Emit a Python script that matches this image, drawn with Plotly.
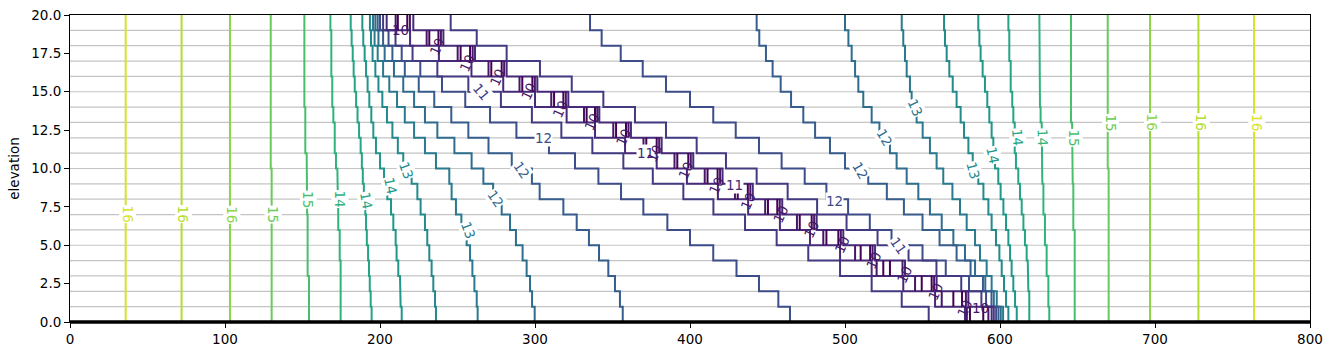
import plotly.graph_objects as go
from plotly.colors import sample_colorscale

# ---------------- data ----------------
# layer boundaries (elevation), top of layer 1 down to bottom of layer 20
layer_edges = [20, 19, 18, 17, 16, 15, 14, 13, 12, 11, 10, 9, 8, 7, 6, 5, 4, 3, 2, 1, 0]
grid_lines = [19, 18, 17, 16, 15, 14, 13, 12, 11, 10, 9, 8, 7, 6, 5, 4, 3, 2, 1]

# colour normalisation of the contour levels
level_min = 10.0
level_max = 16.8

# x position of each contour branch in every layer (top layer first)
h164_left = [35.9, 35.9, 35.9, 35.9, 35.9, 35.9, 35.9, 35.9, 35.9, 35.9, 35.9, 35.9, 35.9, 35.9, 35.9, 35.9, 35.9, 35.9, 35.9, 35.9]
h160_left = [72.0, 72.0, 72.0, 72.0, 72.0, 72.0, 72.0, 72.0, 72.0, 72.0, 72.0, 72.0, 72.0, 72.0, 72.0, 72.0, 72.0, 72.0, 72.0, 72.0]
h156_left = [103.2, 103.2, 103.2, 103.2, 103.2, 103.2, 103.2, 103.2, 103.2, 103.2, 103.2, 103.2, 103.2, 103.2, 103.2, 103.2, 103.2, 103.2, 103.2, 103.2]
h152_left = [129.5, 129.5, 129.5, 129.5, 129.5, 129.5, 129.5, 129.5, 129.5, 129.5, 130.1, 130.1, 130.1, 130.1, 130.1, 130.1, 130.1, 130.1, 130.1, 130.1]
h148_left = [151.2, 151.2, 151.2, 151.2, 151.2, 151.2, 151.8, 151.8, 151.8, 152.7, 152.7, 152.7, 153.0, 153.3, 153.3, 153.3, 153.3, 154.2, 154.2, 154.2]
h144_left = [168.0, 168.6, 168.6, 168.6, 169.2, 169.2, 169.9, 170.8, 170.8, 171.6, 172.5, 172.8, 173.0, 173.1, 174.0, 174.0, 174.6, 174.6, 174.6, 174.6]
h140_left = [181.1, 181.7, 182.4, 183.0, 183.7, 184.6, 185.5, 186.5, 187.5, 188.3, 188.9, 189.6, 190.5, 191.0, 191.5, 192.3, 192.9, 193.4, 194.0, 194.6]
h136_left = [188.6, 189.2, 190.1, 191.0, 192.0, 193.1, 194.4, 195.7, 197.4, 200.0, 202.6, 204.7, 207.1, 208.6, 210.1, 210.7, 211.8, 212.9, 213.3, 214.0]
h132_left = [193.5, 194.2, 195.2, 197.0, 199.0, 201.5, 204.5, 208.0, 211.5, 215.0, 220.4, 224.1, 226.2, 229.0, 230.5, 231.8, 233.3, 234.4, 235.5, 236.1]
h128_left = [195.5, 196.5, 198.5, 202.0, 206.0, 211.0, 216.0, 222.0, 229.0, 236.1, 244.7, 246.2, 249.0, 252.5, 255.9, 258.1, 259.6, 260.9, 262.4, 263.0]
h124_left = [197.0, 199.0, 203.0, 209.0, 215.0, 222.0, 229.0, 237.0, 248.0, 259.1, 266.7, 273.0, 278.5, 283.9, 287.7, 292.0, 294.6, 296.8, 298.1, 299.8]
h120_left = [198.5, 202.0, 208.0, 216.0, 225.0, 235.0, 246.0, 257.0, 270.0, 285.0, 298.0, 303.0, 318.3, 326.9, 334.8, 341.3, 347.3, 351.6, 354.8, 356.6]
h116_left = [200.0, 205.5, 214.0, 226.0, 240.0, 255.0, 271.0, 288.0, 309.0, 325.8, 340.9, 355.5, 369.9, 385.4, 400.0, 415.0, 430.0, 444.5, 457.0, 464.5]
h112_left = [202.0, 210.0, 221.0, 237.0, 257.0, 278.0, 298.0, 317.0, 337.0, 357.0, 376.0, 395.7, 415.1, 435.5, 455.9, 476.3, 496.8, 517.2, 536.6, 554.0]
h108_left = [204.3, 219.4, 238.0, 259.0, 279.5, 300.0, 320.4, 338.7, 358.1, 378.5, 398.0, 418.0, 437.5, 458.0, 477.4, 496.8, 517.2, 537.6, 558.1, 577.4]

h108_right = [221.5, 240.9, 261.3, 281.7, 301.5, 321.5, 341.5, 361.9, 381.7, 402.1, 421.0, 440.5, 459.5, 481.7, 498.9, 519.4, 538.7, 559.1, 579.6, 594.6]
h112_right = [245.6, 262.4, 281.7, 303.2, 323.7, 344.1, 364.5, 384.5, 404.3, 423.2, 443.0, 463.0, 482.0, 501.0, 521.0, 541.0, 559.0, 575.0, 588.0, 596.0]
h116_right = [335.5, 343.0, 355.3, 369.5, 384.5, 400.0, 415.0, 429.5, 444.5, 459.1, 474.0, 488.0, 502.0, 516.0, 530.0, 550.0, 565.0, 580.0, 591.0, 597.5]
h120_right = [443.0, 444.7, 449.0, 453.3, 458.5, 465.2, 473.1, 480.7, 490.3, 500.0, 515.0, 527.0, 538.0, 550.0, 561.0, 572.0, 581.0, 589.0, 594.5, 599.0]
h124_right = [500.0, 502.2, 504.3, 506.5, 508.6, 511.8, 517.2, 522.2, 529.0, 533.3, 539.8, 547.3, 554.8, 562.4, 569.9, 577.4, 583.9, 590.5, 596.0, 600.5]
h128_right = [536.6, 537.6, 538.7, 539.8, 541.9, 543.0, 546.2, 550.1, 554.8, 559.1, 563.4, 569.3, 574.2, 578.5, 583.9, 587.1, 591.4, 594.6, 597.9, 602.0]
h132_right = [563.9, 564.5, 565.6, 567.3, 569.5, 572.0, 574.6, 576.8, 579.6, 582.4, 586.0, 589.3, 592.5, 594.6, 597.4, 599.6, 601.1, 602.6, 603.9, 605.4]
h136_right = [586.0, 586.7, 587.5, 588.8, 590.3, 591.8, 593.1, 594.6, 595.7, 596.8, 598.9, 600.4, 602.2, 603.9, 605.4, 606.5, 607.5, 608.6, 609.7, 610.8]
h140_right = [605.4, 606.0, 606.0, 606.9, 606.9, 607.9, 608.6, 609.5, 609.5, 610.3, 611.8, 612.9, 614.0, 615.1, 616.1, 617.2, 617.9, 618.3, 618.9, 618.9]
h144_right = [625.4, 625.4, 625.4, 625.4, 625.8, 625.8, 626.2, 626.9, 626.9, 627.3, 627.3, 628.0, 628.0, 629.0, 629.0, 630.1, 630.1, 631.2, 631.2, 631.8]
h148_right = [645.8, 645.8, 645.8, 645.8, 645.8, 645.8, 645.8, 646.5, 646.5, 646.9, 646.9, 647.3, 647.3, 647.3, 648.2, 648.2, 648.2, 648.2, 648.2, 648.2]
h152_right = [669.5, 669.5, 669.5, 669.5, 669.5, 669.5, 669.5, 669.5, 669.5, 669.5, 670.1, 670.1, 670.1, 670.1, 670.1, 670.1, 670.1, 670.1, 670.1, 670.1]
h156_right = [696.8, 696.8, 696.8, 696.8, 696.8, 696.8, 696.8, 696.8, 696.8, 696.8, 696.8, 696.8, 696.8, 696.8, 696.8, 696.8, 696.8, 696.8, 696.8, 696.8]
h160_right = [728.0, 728.0, 728.0, 728.0, 728.0, 728.0, 728.0, 728.0, 728.0, 728.0, 728.0, 728.0, 728.0, 728.0, 728.0, 728.0, 728.0, 728.0, 728.0, 728.0]
h164_right = [763.9, 763.9, 763.9, 763.9, 763.9, 763.9, 763.9, 763.9, 763.9, 763.9, 763.9, 763.9, 763.9, 763.9, 763.9, 763.9, 763.9, 763.9, 763.9, 763.9]

# lowest heads: short contours inside each layer of the drain band
h104_a = [210.1, 230.1, 250.1, 270.0, 290.0, 310.5, 331.6, 350.5, 370.0, 390.0, 409.5, 429.0, 448.5, 469.0, 486.0, 506.5, 520.4, 545.2, 562.4, 578.6]
h100_a = [211.5, 231.8, 252.0, 271.8, 291.8, 312.3, 333.3, 352.3, 371.8, 391.8, 411.3, 430.8, 450.3, 470.8, 488.0, 510.1, 524.7, 549.5, 569.9, 580.6]
h100_b = [217.6, 237.7, 258.1, 278.5, 298.3, 318.3, 338.7, 358.7, 378.5, 398.9, 417.8, 437.3, 456.3, 478.5, 495.7, 516.2, 529.0, 555.9, 575.5, 589.2]
h104_b = [219.3, 239.3, 259.8, 280.1, 299.9, 319.9, 340.2, 360.3, 380.1, 400.5, 419.4, 438.9, 457.9, 480.1, 497.3, 517.8, 537.1, 557.5, 578.0, 592.5]

# contour labels
label_x = [37.4, 73.5, 104.7, 131.3, 153.6, 174.0, 191.4, 206.5, 217.0, 257.0, 274.2, 291.4, 305.2, 265.6,
           545.2, 525.8, 509.7, 493.5, 534.2, 582.6, 595.5, 611.6, 627.7, 648.0, 671.0, 698.0, 729.5, 765.4,
           371.0, 429.0]
label_y = [7.0, 7.0, 7.0, 7.0, 8.0, 8.0, 7.9, 8.9, 9.9, 6.0, 8.05, 9.9, 12.0, 15.0,
           14.0, 12.0, 9.9, 7.9, 5.0, 9.9, 10.9, 12.0, 12.0, 12.0, 13.0, 13.0, 13.0, 13.0,
           11.0, 8.9]
label_text = ["16", "16", "16", "15", "15", "14", "14", "14", "13", "13", "12", "12", "12", "11",
              "13", "12", "12", "12", "11", "13", "14", "14", "14", "15", "15", "16", "16", "16",
              "11", "11"]
label_level = [16.4, 16.0, 15.6, 15.2, 14.8, 14.4, 14.0, 13.6, 13.2, 12.8, 12.4, 12.0, 11.6, 11.2,
               12.8, 12.4, 12.0, 11.6, 11.2, 13.2, 13.6, 14.0, 14.4, 14.8, 15.2, 15.6, 16.0, 16.4,
               10.8, 10.8]
label_angle = [90, 90, 90, 90, 90, 90, 80, 78, 70, 70, 55, 55, 0, 50,
               65, 60, 60, 0, 55, 75, 78, 85, 88, 90, 90, 90, 90, 90,
               0, 0]

band_label_x = [212.9, 236.8, 256.1, 275.5, 295.5, 316.1, 336.8, 356.8, 377.4, 397.4, 417.4, 437.4,
                458.1, 478.1, 498.1, 518.1, 538.7, 558.7, 577.4, 587.1]
band_label_y = [19.0, 17.9, 16.9, 15.9, 15.0, 13.9, 13.0, 12.0, 11.0, 9.9, 8.9, 7.9,
                7.0, 6.0, 5.0, 4.0, 3.1, 2.0, 0.9, 0.9]
band_label_angle = [0, -65, -65, -65, -65, -65, -65, -65, -65, -65, -65, -65,
                    -65, -65, -65, -65, -65, -65, -65, 0]

x_ticks = [0, 100, 200, 300, 400, 500, 600, 700, 800]
y_ticks = [0.0, 2.5, 5.0, 7.5, 10.0, 12.5, 15.0, 17.5, 20.0]

# ---------------- build figure ----------------
branches = [
    (16.4, h164_left, h164_right), (16.0, h160_left, h160_right), (15.6, h156_left, h156_right),
    (15.2, h152_left, h152_right), (14.8, h148_left, h148_right), (14.4, h144_left, h144_right),
    (14.0, h140_left, h140_right), (13.6, h136_left, h136_right), (13.2, h132_left, h132_right),
    (12.8, h128_left, h128_right), (12.4, h124_left, h124_right), (12.0, h120_left, h120_right),
    (11.6, h116_left, h116_right), (11.2, h112_left, h112_right), (10.8, h108_left, h108_right),
]


def level_color(lev):
    return sample_colorscale("Viridis", [(lev - level_min) / (level_max - level_min)])[0]


def staircase(xs):
    px, py = [], []
    for k, x in enumerate(xs):
        px += [x, x]
        py += [layer_edges[k], layer_edges[k + 1]]
    return px, py


fig = go.Figure()

# layer boundaries
gx, gy = [], []
for b in grid_lines:
    gx += [0, 800, None]
    gy += [b, b, None]
fig.add_trace(go.Scatter(x=gx, y=gy, mode="lines", line=dict(color="#c4c4c4", width=1.2),
                         hoverinfo="skip", showlegend=False))

for lev, left, right in branches:
    lx, ly = staircase(left)
    rx, ry = staircase(right)
    fig.add_trace(go.Scatter(x=lx + [None] + rx, y=ly + [None] + ry, mode="lines",
                             line=dict(color=level_color(lev), width=2),
                             hoverinfo="skip", showlegend=False))

for lev, xs in [(10.4, h104_a), (10.0, h100_a), (10.0, h100_b), (10.4, h104_b)]:
    sx, sy = [], []
    for k, x in enumerate(xs):
        sx += [x, x, None]
        sy += [layer_edges[k], layer_edges[k + 1], None]
    fig.add_trace(go.Scatter(x=sx, y=sy, mode="lines", line=dict(color=level_color(lev), width=2),
                             hoverinfo="skip", showlegend=False))

font_family = "DejaVu Sans"
annotations = []
for x, y, t, lev, ang in zip(label_x, label_y, label_text, label_level, label_angle):
    annotations.append(dict(x=x, y=y, xref="x", yref="y", text=t, showarrow=False,
                            textangle=ang, bgcolor="white", borderpad=0,
                            font=dict(family=font_family, size=13.5, color=level_color(lev))))
for x, y, ang in zip(band_label_x, band_label_y, band_label_angle):
    annotations.append(dict(x=x, y=y, xref="x", yref="y", text="10", showarrow=False,
                            textangle=ang, borderpad=0,
                            font=dict(family=font_family, size=13.5, color=level_color(10.4))))

fig.update_layout(
    width=1333, height=357,
    margin=dict(l=70, r=23, t=15, b=35, autoexpand=False),
    paper_bgcolor="white", plot_bgcolor="white",
    font=dict(family=font_family, size=13.5, color="black"),
    annotations=annotations,
    shapes=[dict(type="line", xref="paper", yref="paper", x0=0, x1=1, y0=0, y1=0,
                 line=dict(color="black", width=3.5), layer="above")],
    xaxis=dict(range=[0, 800], tickvals=x_ticks, ticks="outside", ticklen=5, tickwidth=1,
               tickcolor="black", showline=True, linecolor="black", linewidth=1, mirror=True,
               showgrid=False, zeroline=False, automargin=False,
               tickfont=dict(size=13.5, color="black")),
    yaxis=dict(range=[0, 20], tickvals=y_ticks, tickformat=".1f", ticks="outside", ticklen=5,
               tickwidth=1, tickcolor="black", showline=True, linecolor="black", linewidth=1,
               mirror=True, showgrid=False, zeroline=False, automargin=False,
               title=dict(text="elevation", font=dict(size=13.5, color="black"), standoff=8),
               tickfont=dict(size=13.5, color="black")),
)

fig.write_html("out.html", config={"displayModeBar": False},
               post_script="document.body.style.margin='0';document.body.style.overflow='hidden';")
